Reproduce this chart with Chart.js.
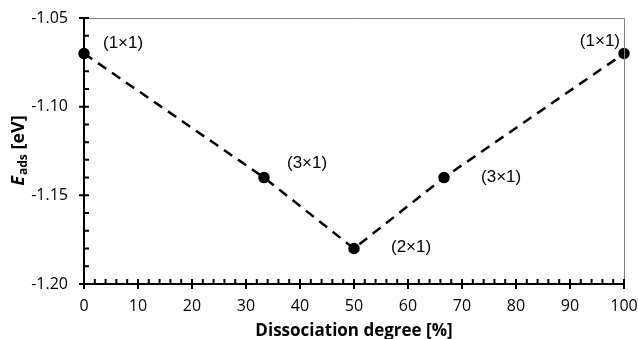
<!DOCTYPE html>
<html>
<head>
<meta charset="utf-8">
<script src="https://cdn.jsdelivr.net/npm/chart.js@4"></script>
<style>
  html, body { margin: 0; padding: 0; background: #fff; }
  #wrap { width: 638px; height: 339px; }
</style>
</head>
<body>
<div id="wrap"><canvas id="chart"></canvas></div>
<script>
// data
const degree = [0, 33.33, 50, 66.67, 100];
const energy = [-1.07, -1.14, -1.18, -1.14, -1.07];
const cellLabels = ['(1×1)', '(3×1)', '(2×1)', '(3×1)', '(1×1)'];
const xTicks = [0, 10, 20, 30, 40, 50, 60, 70, 80, 90, 100];
const yTicks = [-1.20, -1.15, -1.10, -1.05];

// label placement: [dx, dy, align]
const labelPos = [
  [19, -10, 'left'],
  [23, -14, 'left'],
  [37, -1, 'left'],
  [37, 0, 'left'],
  [-4, -12, 'right']
];

// axes lines, ticks, minor ticks, top/right border
const axesPlugin = {
  id: 'axesPlugin',
  afterDatasetsDraw(chart) {
    const ctx = chart.ctx;
    const a = chart.chartArea;
    const xs = chart.scales.x, ys = chart.scales.y;
    ctx.save();
    // grey frame top/right
    ctx.strokeStyle = '#7f7f7f';
    ctx.lineWidth = 1;
    ctx.beginPath();
    ctx.moveTo(a.left, a.top + 0.5);
    ctx.lineTo(a.right + 0.5, a.top + 0.5);
    ctx.lineTo(a.right + 0.5, a.bottom);
    ctx.stroke();

    ctx.strokeStyle = '#000';
    ctx.lineWidth = 2;
    ctx.beginPath();
    ctx.moveTo(a.left, a.top);
    ctx.lineTo(a.left, a.bottom);
    ctx.lineTo(a.right + 1, a.bottom);
    ctx.stroke();

    ctx.beginPath();
    // x major / minor
    for (let v = 0; v <= 100; v += 2) {
      const px = xs.getPixelForValue(v);
      if (v % 10 === 0) {
        ctx.moveTo(px, a.bottom - 5);
        ctx.lineTo(px, a.bottom + 5);
      } else {
        ctx.moveTo(px, a.bottom - 5);
        ctx.lineTo(px, a.bottom);
      }
    }
    // y major / minor
    for (let i = 0; i <= 15; i++) {
      const v = -1.20 + i * 0.01;
      const py = ys.getPixelForValue(v);
      if (i % 5 === 0) {
        ctx.moveTo(a.left - 5, py);
        ctx.lineTo(a.left + 5, py);
      } else {
        ctx.moveTo(a.left, py);
        ctx.lineTo(a.left + 5, py);
      }
    }
    ctx.stroke();

    // point labels
    const meta = chart.getDatasetMeta(0);
    ctx.fillStyle = '#000';
    ctx.font = '17px "Liberation Sans"';
    ctx.textBaseline = 'middle';
    meta.data.forEach((pt, i) => {
      const p = labelPos[i];
      ctx.textAlign = p[2];
      ctx.fillText(cellLabels[i], pt.x + p[0], pt.y + p[1]);
    });

    // y title: E_ads [eV]
    ctx.translate(18, (a.top + a.bottom) / 2);
    ctx.rotate(-Math.PI / 2);
    ctx.textBaseline = 'alphabetic';
    ctx.textAlign = 'left';
    const f1 = 'italic bold 18px "Open Sans"';
    const f2 = 'bold 12px "Open Sans"';
    const f3 = 'bold 18px "Open Sans"';
    ctx.font = f1; const w1 = ctx.measureText('E').width;
    ctx.font = f2; const w2 = ctx.measureText('ads').width;
    ctx.font = f3; const w3 = ctx.measureText(' [eV]').width;
    let x0 = -(w1 + w2 + w3) / 2;
    ctx.font = f1; ctx.fillText('E', x0, 6);
    ctx.font = f2; ctx.fillText('ads', x0 + w1 + 1, 9);
    ctx.font = f3; ctx.fillText(' [eV]', x0 + w1 + w2 + 1, 6);
    ctx.restore();
  }
};

new Chart(document.getElementById('chart'), {
  type: 'scatter',
  data: {
    datasets: [{
      data: degree.map((d, i) => ({ x: d, y: energy[i] })),
      showLine: true,
      borderColor: '#000',
      borderWidth: 2.5,
      borderDash: [10, 7],
      pointBackgroundColor: '#000',
      pointBorderColor: '#000',
      pointRadius: 4.5,
      clip: false
    }]
  },
  options: {
    responsive: true,
    maintainAspectRatio: false,
    animation: false,
    layout: { padding: { top: 18, right: 14, left: 0, bottom: 0 } },
    plugins: { legend: { display: false }, tooltip: { enabled: false } },
    scales: {
      x: {
        type: 'linear',
        min: 0, max: 100,
        afterBuildTicks: s => { s.ticks = xTicks.map(v => ({ value: v })); },
        afterFit: s => { s.height = 55; s.paddingRight = 0; s.paddingLeft = 0; },
        grid: { display: false },
        border: { display: false },
        ticks: { color: '#000', font: { family: 'Open Sans', size: 16 }, padding: 5, maxRotation: 0 },
        title: { display: true, text: 'Dissociation degree [%]', color: '#000', font: { family: 'Open Sans', size: 17, weight: 'bold' }, padding: { top: 0, bottom: -2 } }
      },
      y: {
        min: -1.20, max: -1.05,
        afterBuildTicks: s => { s.ticks = yTicks.map(v => ({ value: v })); },
        afterFit: s => { s.width = 84; s.paddingTop = 0; s.paddingBottom = 0; },
        grid: { display: false },
        border: { display: false },
        ticks: { color: '#000', font: { family: 'Open Sans', size: 16 }, padding: 8, callback: v => v.toFixed(2) }
      }
    }
  },
  plugins: [axesPlugin]
});
</script>
</body>
</html>
